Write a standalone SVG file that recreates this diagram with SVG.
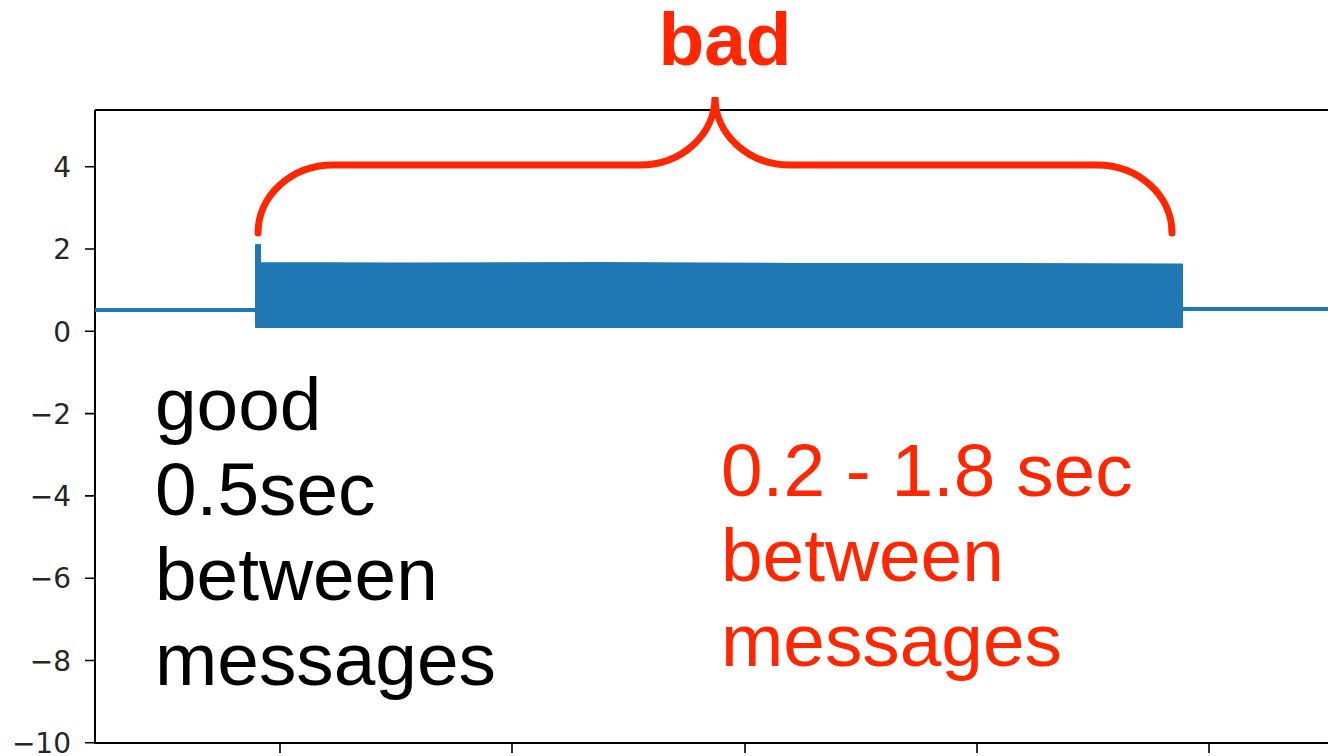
<svg xmlns="http://www.w3.org/2000/svg" width="1328" height="756" viewBox="0 0 1328 756">
<style>
.tick{font-family:"DejaVu Sans",sans-serif;font-size:28px;fill:#262626;text-anchor:end}
.tk{stroke:#000;stroke-width:1.6}
.spine{stroke:#000;stroke-width:2;fill:none}
.sig{stroke:#1f77b4;fill:#1f77b4}
.big{font-family:"Liberation Sans",Arial,sans-serif;font-size:74.8px}
.red{fill:#ff2600}
</style>
<rect width="1328" height="756" fill="#fff"/>
<g id="axes">
<path class="spine" d="M95,110 L1328,110 M95,110 L95,743 L1328,743"/>
<g id="yticks">
<path class="tk" d="M85,166.7H95 M85,249H95 M85,331.3H95 M85,413.6H95 M85,495.9H95 M85,578.2H95 M85,660.5H95 M85,742.8H95"/>
<text class="tick" x="71" y="176.9">4</text>
<text class="tick" x="71" y="259.2">2</text>
<text class="tick" x="71" y="341.5">0</text>
<text class="tick" x="71" y="423.8">−2</text>
<text class="tick" x="71" y="506.1">−4</text>
<text class="tick" x="71" y="588.4">−6</text>
<text class="tick" x="71" y="670.7">−8</text>
<text class="tick" x="71" y="753">−10</text>
</g>
<g id="xticks">
<path class="tk" d="M280,743V753 M512,743V753 M745,743V753 M977,743V753 M1209,743V753"/>
</g>
</g>
<g id="signal">
<line class="sig" x1="95" y1="310" x2="257" y2="310" stroke-width="4"/>
<line class="sig" x1="1182" y1="309" x2="1328" y2="309" stroke-width="4"/>
<path class="sig" stroke-width="2" stroke-linejoin="round" d="M256,327 L256,245 L260,245 L260,263 L400,263.5 L600,263 L800,264 L1000,264 L1182,264.5 L1182,327 Z"/>
</g>
<g id="brace">
<path d="M258,233 A75,68 0 0 1 333,165 L640,165 A75,68 0 0 0 715,97 A75,68 0 0 0 790,165 L1097,165 A75,68 0 0 1 1172,233" fill="none" stroke="#ff2600" stroke-width="7" stroke-linecap="round"/>
</g>
<g id="label-bad">
<text x="725" y="65" class="big red" font-size="72" font-weight="bold" text-anchor="middle">bad</text>
</g>
<g id="label-good">
<text class="big" x="155" y="430">good</text>
<text class="big" x="155" y="515">0.5sec</text>
<text class="big" x="155" y="600">between</text>
<text class="big" x="155" y="685">messages</text>
</g>
<g id="label-badrate">
<text class="big red" x="721" y="496">0.2 - 1.8 sec</text>
<text class="big red" x="721" y="581">between</text>
<text class="big red" x="721" y="666">messages</text>
</g>
</svg>
